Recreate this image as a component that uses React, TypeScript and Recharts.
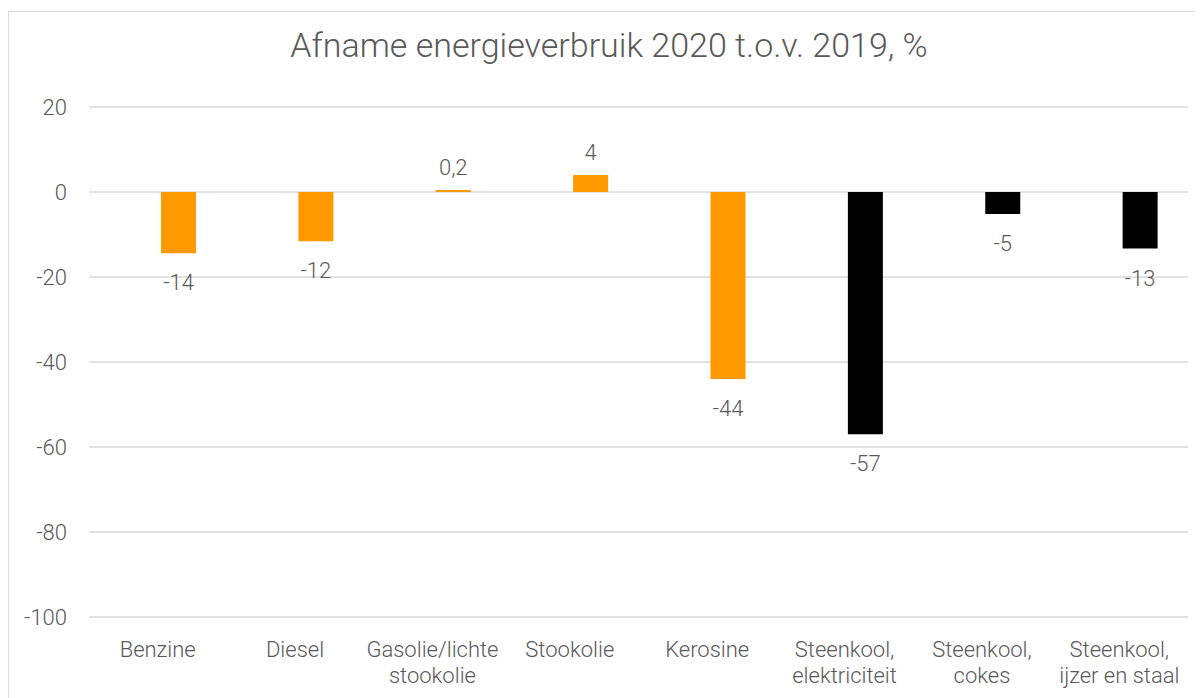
import { Bar, BarChart, CartesianGrid, Cell, LabelList, XAxis, YAxis } from 'recharts'

const categories = [
  'Benzine',
  'Diesel',
  'Gasolie/lichte\nstookolie',
  'Stookolie',
  'Kerosine',
  'Steenkool,\nelektriciteit',
  'Steenkool,\ncokes',
  'Steenkool,\nijzer en staal',
]
const changes = [-14.4, -11.6, 0.2, 4, -44, -57, -5.2, -13.3]
const groups = ['olie', 'olie', 'olie', 'olie', 'olie', 'steenkool', 'steenkool', 'steenkool']
const yTicks = [20, 0, -20, -40, -60, -80, -100]

const GROUP_COLORS: Record<string, string> = { olie: '#FF9900', steenkool: '#000000' }
const FONT = 'Roboto, "Liberation Sans", sans-serif'
const TEXT = '#595959'

const data = categories.map((name, i) => ({ name, change: changes[i], group: groups[i] }))

function formatValue(v: number) {
  return Math.abs(v) < 1 ? v.toFixed(1).replace('.', ',') : String(Math.round(v))
}

function CategoryTick({ x, y, payload }: { x?: number; y?: number; payload?: { value: string } }) {
  const lines = String(payload?.value ?? '').split('\n')
  return (
    <text x={x} y={y} textAnchor="middle" fill={TEXT} fontSize={22} fontWeight={300} fontFamily={FONT}>
      {lines.map((line, i) => (
        <tspan key={line} x={x} dy={i === 0 ? 40 : 26}>
          {line}
        </tspan>
      ))}
    </text>
  )
}

function ValueLabel(props: any) {
  const { x, y, width, height, value } = props
  const top = Math.min(y, y + height)
  const bottom = Math.max(y, y + height)
  const ty = value >= 0 ? top - 15 : bottom + 37
  return (
    <text x={x + width / 2} y={ty} textAnchor="middle" fill={TEXT} fontSize={22} fontWeight={300} fontFamily={FONT}>
      {formatValue(value)}
    </text>
  )
}

export default function App() {
  return (
    <div
      style={{
        position: 'relative',
        marginTop: 3,
        width: 1200,
        height: 700,
        border: '1px solid #d9d9d9',
        background: '#fff',
        fontFamily: FONT,
      }}
    >
      <div
        style={{
          position: 'absolute',
          top: 16,
          left: 0,
          right: 0,
          textAlign: 'center',
          fontSize: 34,
          fontWeight: 300,
          lineHeight: 1,
          color: TEXT,
        }}
      >
        Afname energieverbruik 2020 t.o.v. 2019, %
      </div>
      <BarChart
        width={1200}
        height={700}
        data={data}
        margin={{ top: 95, right: 21, left: 0, bottom: 25 }}
        barSize={35}
        barGap={7}
      >
        <CartesianGrid vertical={false} stroke="#d9d9d9" strokeWidth={1.5} />
        <XAxis
          dataKey="name"
          axisLine={false}
          tickLine={false}
          tickSize={0}
          tickMargin={0}
          height={70}
          interval={0}
          tick={<CategoryTick />}
        />
        <YAxis
          type="number"
          domain={[-100, 20]}
          ticks={yTicks}
          width={80}
          axisLine={false}
          tickLine={false}
          tickSize={0}
          tickMargin={22}
          tick={{ fill: TEXT, fontSize: 22, fontWeight: 300, fontFamily: FONT }}
        />
        {/* lege reeks: houdt de staven rechts van het midden, zoals in het origineel */}
        <Bar dataKey="leeg" isAnimationActive={false} />
        <Bar dataKey="change" minPointSize={2} isAnimationActive={false}>
          {data.map((d) => (
            <Cell key={d.name} fill={GROUP_COLORS[d.group]} />
          ))}
          <LabelList dataKey="change" content={<ValueLabel />} />
        </Bar>
      </BarChart>
    </div>
  )
}
